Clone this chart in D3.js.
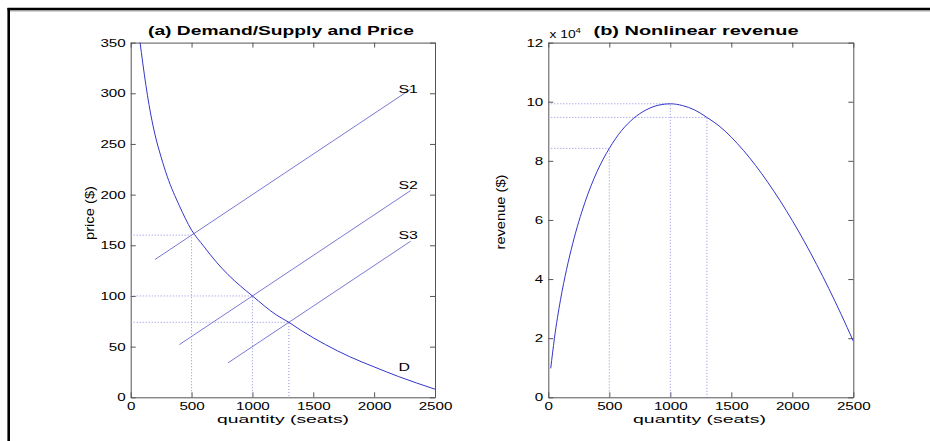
<!DOCTYPE html>
<html>
<head>
<meta charset="utf-8">
<script src="https://cdn.jsdelivr.net/npm/d3@7"></script>
<style>
  body { margin: 0; background: #fff; }
  text { font-family: "Liberation Sans", Arial, sans-serif; }
</style>
</head>
<body>
<svg id="chart" width="930" height="441"></svg>
<script>
// (a) demand curve D
const demandQ = [75, 100, 150, 200, 250, 300, 400, 500, 600, 700, 800, 900, 1000, 1200, 1300, 1400, 1600, 1800, 2000, 2200, 2500];
const demandP = [352, 329, 289, 259, 237, 218, 189, 165, 149, 134, 121, 110, 100, 81, 74, 66, 52, 40, 30, 20.5, 8];

// (a) supply lines, start and end points
const supplyNames = ["S1", "S2", "S3"];
const supplyQ = [[200, 2300], [400, 2300], [800, 2300]];
const supplyP = [[136, 304], [52, 204], [34, 154]];

// (a) equilibrium points (dotted guides)
const eqQ = [500, 1000, 1300];
const eqP = [160, 100, 74];

// (b) revenue curve, in units of 1e4
const revQ = [20, 50, 100, 150, 200, 300, 400, 500, 600, 700, 800, 900, 1000, 1100, 1200, 1300, 1400, 1600, 1800, 2000, 2200, 2400, 2500];
const revR = [0.98, 1.99, 3.3, 4.33, 5.2, 6.59, 7.64, 8.42, 9.02, 9.44, 9.72, 9.88, 9.93, 9.87, 9.72, 9.47, 9.18, 8.35, 7.27, 5.98, 4.49, 2.81, 1.9];

// (b) guide points
const revMarkQ = [500, 1000, 1300];
const revMarkR = [8.42, 9.93, 9.47];

// ticks
const xTicks = [0, 500, 1000, 1500, 2000, 2500];
const yTicksA = [0, 50, 100, 150, 200, 250, 300, 350];
const yTicksB = [0, 2, 4, 6, 8, 10, 12];

const SX = 1.38;  // the original text is stretched wide
const curveBlue = "#3535c8";
const lineBlue = "#7878d2";
const dotBlue = "#8c8ce0";

const svg = d3.select("#chart");

// outer frame (top and left edge only)
svg.append("line").attr("x1", 8).attr("x2", 930).attr("y1", 11).attr("y2", 11)
    .attr("stroke", "#aaa").attr("stroke-width", 1);
svg.append("line").attr("x1", 7.5).attr("x2", 930).attr("y1", 9).attr("y2", 9)
    .attr("stroke", "#000").attr("stroke-width", 2.6);
svg.append("line").attr("x1", 8.7).attr("x2", 8.7).attr("y1", 8).attr("y2", 441)
    .attr("stroke", "#000").attr("stroke-width", 2.6);

function makePanel(left, right, yDomain, yTicks) {
    const x = d3.scaleLinear().domain([0, 2500]).range([left, right]);
    const y = d3.scaleLinear().domain(yDomain).range([397.3, 42.6]);
    const g = svg.append("g");

    const ax = (gen, tx, ty, labels) => {
        const a = g.append("g").attr("transform", `translate(${tx},${ty})`)
            .call(gen.tickSizeInner(-5).tickSizeOuter(0).tickPadding(4.5)
                .tickFormat(labels ? d3.format("d") : ""));
        a.select(".domain").attr("stroke", "#555");
        a.selectAll(".tick line").attr("stroke", "#555");
        a.selectAll("text").attr("font-size", 11).attr("fill", "#000")
            .attr("font-family", '"Liberation Sans", Arial, sans-serif');
        return a;
    };

    const bottom = ax(d3.axisBottom(x).tickValues(xTicks), 0, y.range()[0], true);
    bottom.selectAll("text").attr("transform", `scale(${SX},1)`);
    ax(d3.axisTop(x).tickValues(xTicks), 0, y.range()[1], false);
    const leftAx = ax(d3.axisLeft(y).tickValues(yTicks), left, 0, true);
    leftAx.selectAll("text").attr("x", -5 / SX).attr("transform", `scale(${SX},1)`);
    ax(d3.axisRight(y).tickValues(yTicks), right, 0, false);

    const clipId = "clip" + Math.round(left);
    svg.append("clipPath").attr("id", clipId).append("rect")
        .attr("x", left).attr("y", y.range()[1])
        .attr("width", right - left).attr("height", y.range()[0] - y.range()[1]);
    const plot = g.append("g").attr("clip-path", `url(#${clipId})`);

    return { x, y, g, plot };
}

// ---- panel (a)
const a = makePanel(130.7, 435, [0, 350], yTicksA);

eqQ.forEach((q, i) => {
    const p = eqP[i];
    a.plot.append("path")
        .attr("d", d3.line()([[a.x(0), a.y(p)], [a.x(q), a.y(p)], [a.x(q), a.y(0)]]))
        .attr("fill", "none").attr("stroke", dotBlue).attr("stroke-width", 1)
        .attr("stroke-dasharray", "1,2");
});

supplyNames.forEach((name, i) => {
    const pts = supplyQ[i].map((q, j) => [a.x(q), a.y(supplyP[i][j])]);
    a.plot.append("path").attr("d", d3.line()(pts))
        .attr("fill", "none").attr("stroke", lineBlue).attr("stroke-width", 1);
});

a.plot.append("path")
    .datum(demandQ.map((q, i) => [q, demandP[i]]))
    .attr("d", d3.line().x(d => a.x(d[0])).y(d => a.y(d[1])).curve(d3.curveMonotoneX))
    .attr("fill", "none").attr("stroke", curveBlue).attr("stroke-width", 1);

// curve labels
const labelQ = 2200;
const labelP = [300, 206, 156, 26];
const curveLabels = supplyNames.concat(["D"]);
labelP.forEach((p, i) => {
    a.g.append("text").attr("x", a.x(labelQ) / SX).attr("y", a.y(p))
        .attr("transform", `scale(${SX},1)`)
        .attr("font-size", 11.5).text(curveLabels[i]);
});

a.g.append("text").attr("x", 281).attr("y", 35).attr("text-anchor", "middle")
    .attr("font-size", 13).attr("font-weight", "bold")
    .attr("textLength", 266).attr("lengthAdjust", "spacingAndGlyphs")
    .text("(a) Demand/Supply and Price");
a.g.append("text").attr("x", 283).attr("y", 422.5).attr("text-anchor", "middle")
    .attr("font-size", 10.5).attr("textLength", 132).attr("lengthAdjust", "spacingAndGlyphs")
    .text("quantity (seats)");
a.g.append("text").attr("transform", "translate(94,213) rotate(-90)")
    .attr("text-anchor", "middle").attr("font-size", 12)
    .attr("textLength", 54).attr("lengthAdjust", "spacingAndGlyphs")
    .text("price ($)");

// ---- panel (b)
const b = makePanel(548.3, 853.3, [0, 12], yTicksB);

revMarkQ.forEach((q, i) => {
    const r = revMarkR[i];
    b.plot.append("path")
        .attr("d", d3.line()([[b.x(0), b.y(r)], [b.x(q), b.y(r)], [b.x(q), b.y(0)]]))
        .attr("fill", "none").attr("stroke", dotBlue).attr("stroke-width", 1)
        .attr("stroke-dasharray", "1,2");
});

b.plot.append("path")
    .datum(revQ.map((q, i) => [q, revR[i]]))
    .attr("d", d3.line().x(d => b.x(d[0])).y(d => b.y(d[1])).curve(d3.curveMonotoneX))
    .attr("fill", "none").attr("stroke", curveBlue).attr("stroke-width", 1);

b.g.append("text").attr("x", 696).attr("y", 35).attr("text-anchor", "middle")
    .attr("font-size", 13).attr("font-weight", "bold")
    .attr("textLength", 205).attr("lengthAdjust", "spacingAndGlyphs")
    .text("(b) Nonlinear revenue");
b.g.append("text").attr("x", 699.5).attr("y", 422.5).attr("text-anchor", "middle")
    .attr("font-size", 10.5).attr("textLength", 133).attr("lengthAdjust", "spacingAndGlyphs")
    .text("quantity (seats)");
b.g.append("text").attr("transform", "translate(505,212) rotate(-90)")
    .attr("text-anchor", "middle").attr("font-size", 12)
    .attr("textLength", 75).attr("lengthAdjust", "spacingAndGlyphs")
    .text("revenue ($)");

// exponent label
const expo = b.g.append("text").attr("transform", `translate(549.5,38) scale(${SX},1)`)
    .attr("font-size", 10);
expo.append("tspan").text("x 10");
expo.append("tspan").attr("dy", -5).attr("font-size", 7).text("4");
</script>
</body>
</html>
